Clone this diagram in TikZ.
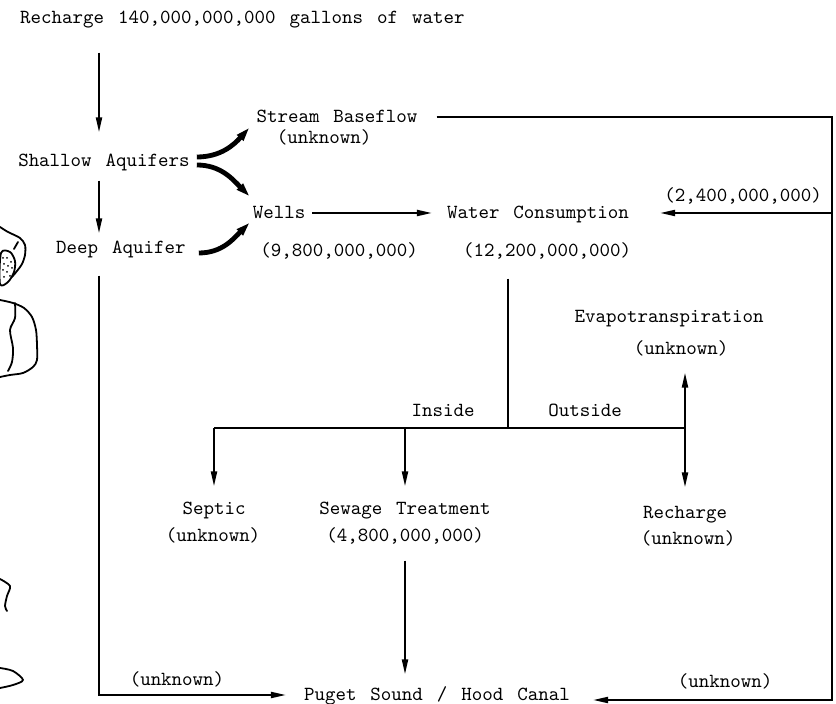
\documentclass[tikz,border=0pt]{standalone}
\usetikzlibrary{arrows.meta}
\newcommand\flowfont{\ttfamily\spaceskip=.7em\relax}
\tikzset{
x=0.5pt, y=-0.5pt, % one unit is one pixel of the sheet, y runs downwards
txt/.style={font=\flowfont, text height=1.5ex, text depth=.25ex}, % every piece of text
pipe/.style={line width=1pt}, % plain line, no tip
flow/.style={line width=1pt, -{Triangle[length=7.5pt, width=3pt]}}, % ordinary flow arrow
bigflow/.style={line width=2.4pt, -{Triangle[length=7pt, width=4pt]}}, % heavy curved arrows out of the aquifers
coast/.style={line width=0.9pt, line join=round, line cap=round}, % scraps of the map on the left
}

\begin{document}
\begin{tikzpicture}
\useasboundingbox (0,0) rectangle (836,704);

% sources
\node[txt, anchor=west] at (13, 18) (title) {Recharge 140,000,000,000 gallons of water};
\node[txt] at (104, 161) (shallow) {Shallow Aquifers};
\node[txt] at (121, 248) (deep) {Deep Aquifer};

% withdrawals
\node[txt] at (337, 117) (baseflow) {Stream Baseflow};
\node[txt] at (324, 138) (baseflowamt) {(unknown)};
\node[txt] at (279, 213) (wells) {Wells};
\node[txt] at (339, 251) (wellsamt) {(9,800,000,000)};
\node[txt] at (538, 213) (use) {Water Consumption};
\node[txt] at (547, 251) (useamt) {(12,200,000,000)};
\node[txt] at (743, 196) (backamt) {(2,400,000,000)};

% where the water goes
\node[txt] at (443, 411) (inside) {Inside};
\node[txt] at (585, 411) (outside) {Outside};
\node[txt] at (669, 317) (evapo) {Evapotranspiration};
\node[txt] at (681, 349) (evapoamt) {(unknown)};
\node[txt] at (214, 509) (septic) {Septic};
\node[txt] at (213, 536) (septicamt) {(unknown)};
\node[txt] at (405, 509) (sewage) {Sewage Treatment};
\node[txt] at (405, 536) (sewageamt) {(4,800,000,000)};
\node[txt] at (685, 513) (recharge) {Recharge};
\node[txt] at (688, 539) (rechargeamt) {(unknown)};
\node[txt] at (437, 695) (sound) {Puget Sound / Hood Canal};
\node[txt] at (177, 680) (westamt) {(unknown)};
\node[txt] at (725, 682) (eastamt) {(unknown)};

% corners of the long return lines
\coordinate (sw) at (99, 695);
\coordinate (ne) at (832, 117);
\coordinate (se) at (832, 700);
\coordinate (split) at (508, 428);

\draw[flow, shorten <=10pt, shorten >=7pt] (title.south -| sw) -- (shallow.north -| sw);
\draw[flow, shorten <=2.5pt] (shallow.south -| sw) -- (deep.north -| sw);
\draw[flow, shorten <=6.5pt, shorten >=5.5pt] (deep.south -| sw) -- (sw) -- (sound.west |- sw);

\draw[bigflow] ([yshift=2pt]shallow.east) to[out=0, in=228] ([yshift=2pt]baseflow.south west);
\draw[bigflow] ([yshift=-2pt]shallow.east) to[out=0, in=135] ([xshift=2pt, yshift=1pt]wells.north west);
\draw[bigflow] ([xshift=3pt, yshift=-2.5pt]deep.east) to[out=0, in=225] ([xshift=2pt, yshift=2.5pt]wells.south west);

\draw[flow, shorten >=4pt] (wells) -- (use);
\draw[flow, shorten <=6pt, shorten >=8pt] (baseflow) -- (ne) -- (se) -- (sound.east |- se);
\draw[flow, shorten >=12pt] (ne |- use) -- (use);

\draw[pipe, shorten <=6.5pt] (useamt.south -| split) -- (split);
\draw[pipe] (septic |- split) -- (recharge |- split);
\draw[flow, shorten >=4pt] (septic |- split) -- (septic);
\draw[flow, shorten >=4pt] (sewage |- split) -- (sewage);
\draw[flow, shorten >=5.5pt] (recharge |- split) -- (recharge);
\draw[flow, shorten >=4.5pt] (recharge |- split) -- (recharge |- evapoamt.south);
\draw[flow, shorten <=5pt, shorten >=3pt] (sewageamt) -- (sewageamt |- sound.north);

% map scraps along the left edge
\draw[coast] plot[smooth] coordinates {(0,227) (8,232) (20,238) (25,245) (25,255) (22,264) (17,271) (12,277)};
\draw[coast] (18,242) -- (14,249);
\draw[coast] plot[smooth cycle] coordinates {(1,253) (10,252) (15,261) (14,272) (8,282) (0,284)};
\foreach \dx/\dy in {3/258, 7/258, 11/262, 4/264, 8/266, 12/268, 3/270, 7/272, 10/276, 4/277}
  \fill (\dx,\dy) circle (0.5pt);
\draw[coast] plot[smooth] coordinates {(0,300) (13,303) (24,308) (32,317) (36,330) (37,345) (37,360) (33,367) (23,373) (10,375) (0,377)};
\draw[coast] plot[smooth] coordinates {(15,303) (15,318) (10,330) (13,348) (12,362) (8,371)};
\draw[coast] plot[smooth] coordinates {(0,579) (10,586) (7,596) (5,606) (7,611)};
\draw[coast] plot[smooth] coordinates {(0,668) (13,671) (23,680) (13,685) (0,688)};
\end{tikzpicture}
\end{document}
